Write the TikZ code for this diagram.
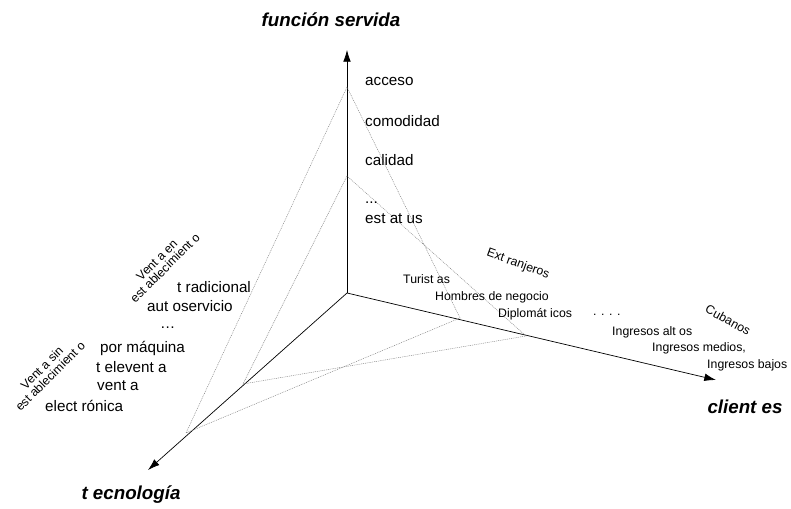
\documentclass[tikz,border=0pt]{standalone}
\usepackage{fontspec}
\setmainfont{Liberation Sans}
\usetikzlibrary{arrows.meta}

\tikzset{
  axis/.style={line width=0.6pt, -{Latex[length=10pt,width=6.5pt]}},
  guide/.style={gray, line width=0.4pt, dash pattern=on 0.8pt off 0.8pt},
  titel/.style={font=\fontsize{16}{18}\selectfont\bfseries\itshape, inner sep=0pt},
  val/.style={font=\fontsize{13}{15}\selectfont, anchor=west, inner sep=0pt},
  sval/.style={font=\fontsize{10.5}{12}\selectfont, anchor=west, inner sep=0pt},
  grp/.style={font=\fontsize{10.5}{10}\selectfont, align=center, inner sep=0pt},
}

\begin{document}
\begin{tikzpicture}[x=0.03cm,y=-0.03cm]
\useasboundingbox (0,0) rectangle (791,508);
\coordinate (o) at (347,293);
\coordinate (fs) at (347,50);
\coordinate (cl) at (716,380);
\coordinate (te) at (148,470);
\coordinate (a1) at (347,87);
\coordinate (a2) at (347,176);
\coordinate (c1) at (460,318);
\coordinate (c2) at (526,336);
\coordinate (t1) at (243,384);
\coordinate (t2) at (186,433);

\draw[axis] (o) -- (fs);
\draw[axis] (o) -- (cl);
\draw[axis] (o) -- (te);

\draw[guide] (a1) -- (t2) -- (c1) -- cycle;
\draw[guide] (a2) -- (t1) -- (c2) -- cycle;

\node[titel] (tfs) at (331,20){función servida};
\node[titel] (tcl) at (745,407){client es};
\node[titel] (tte) at (131,495){t ecnología};

% funcion servida
\node[val] (acc) at (365,81){acceso};
\node[val] (com) at (365,121){comodidad};
\node[val] (cal) at (365,160){calidad};
\node[val] (dts) at (365,203){...};
\node[val] (est) at (365,219){est at us};

% tecnologia
\node[grp, rotate=45] (ven) at (161,264){Vent a en\\est ablecimient o};
\node[val] (tra) at (177,287){t radicional};
\node[val] (aut) at (147,306){aut oservicio};
\node[val] (dtt) at (160,328){\dots};
\node[grp, rotate=45] (vsn) at (46,372){Vent a sin\\est ablecimient o};
\node[val] (maq) at (100,348){por máquina};
\node[val] (tel) at (96,367){t elevent a};
\node[val] (vta) at (97,386){vent a};
\node[val] (ele) at (45,406){elect rónica};

% clientes
\node[grp, rotate=-20] (ext) at (518,264){Ext ranjeros};
\node[sval] (tur) at (403,279){Turist as};
\node[sval] (hom) at (435,297){Hombres de negocio};
\node[sval] (dip) at (498,314){Diplomát icos};
\node[sval] (dtc) at (593,315){. . . .};
\node[grp, rotate=-29] (cub) at (728,320){Cubanos};
\node[sval] (alt) at (612,332){Ingresos alt os};
\node[sval] (med) at (652,348){Ingresos medios,};
\node[sval] (baj) at (707,365){Ingresos bajos};
\end{tikzpicture}
\end{document}
